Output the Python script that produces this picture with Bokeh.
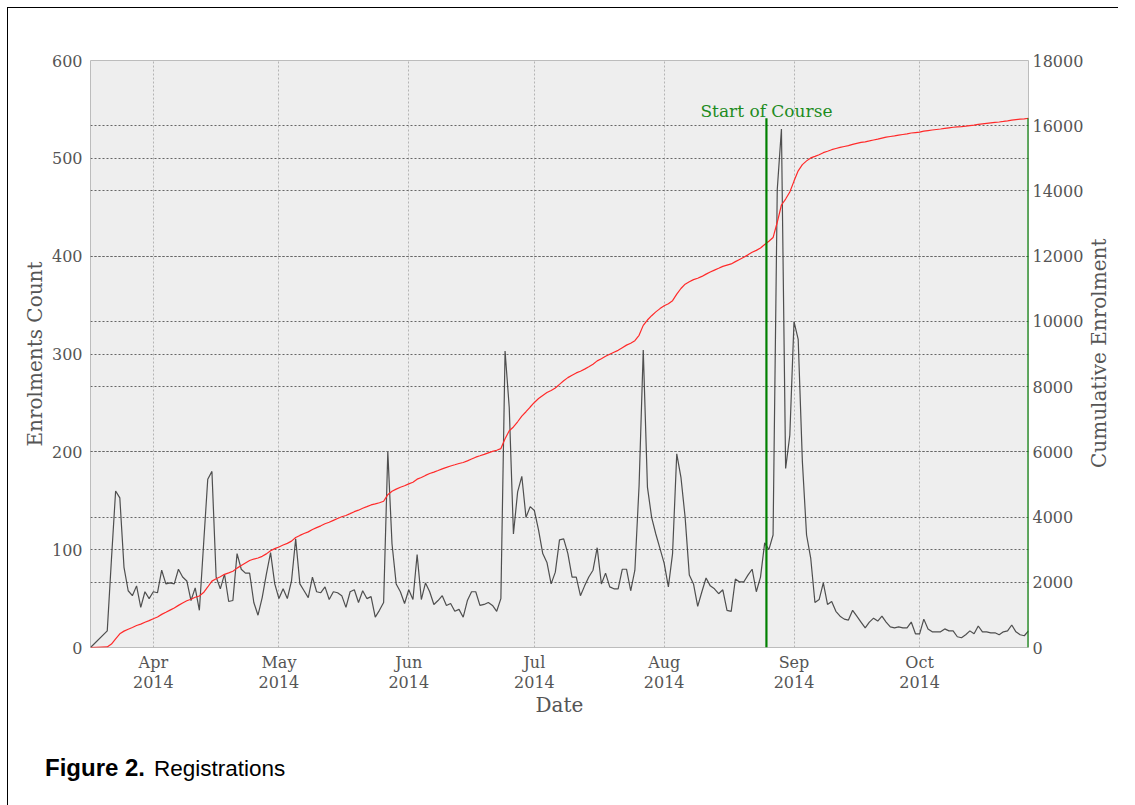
import numpy as np
import pandas as pd
from bokeh.plotting import figure
from bokeh.layouts import column, row
from bokeh.models import (Range1d, LinearAxis, SingleIntervalTicker, MonthsTicker,
                          DatetimeTickFormatter, Grid, Label, Div)
from bokeh.embed import file_html
from bokeh.resources import INLINE

# ---------------- data ----------------
start_date = "2014-03-17"
# daily enrolment counts from start_date (None = no record that day)
counts = [
    0, None, None, None, 17, 90, 160, 153, 82, 58,
    53, 63, 41, 57, 50, 57, 56, 79, 65, 66,
    65, 80, 72, 68, 48, 61, 38, 105, 172, 180,
    72, 60, 75, 47, 48, 96, 80, 76, 76, 46,
    33, 51, 75, 97, 65, 50, 60, 50, 68, 111,
    65, 58, 51, 72, 57, 56, 62, 49, 57, 56,
    53, 41, 57, 59, 46, 58, 50, 52, 31, 38,
    46, 200, 106, 65, 57, 45, 59, 49, 95, 49,
    66, 57, 44, 48, 53, 43, 45, 37, 39, 31,
    48, 57, 57, 43, 44, 46, 43, 37, 50, 303,
    245, 116, 159, 175, 133, 144, 140, 120, 96, 87,
    65, 77, 110, 111, 96, 72, 72, 53, 63, 72,
    79, 102, 65, 76, 62, 60, 60, 80, 80, 58,
    79, 165, 304, 164, 133, 116, 101, 86, 62, 96,
    198, 174, 133, 74, 65, 42, 57, 71, 63, 60,
    55, 59, 38, 37, 70, 67, 67, 74, 80, 57,
    72, 107, 100, 115, 468, 530, 183, 217, 333, 315,
    190, 115, 91, 46, 49, 66, 44, 47, 37, 32,
    29, 28, 38, 32, 26, 20, 26, 30, 27, 32,
    26, 21, 20, 21, 20, 20, 26, 14, 14, 29,
    19, 16, 16, 16, 19, 17, 17, 11, 10, 13,
    17, 14, 22, 16, 16, 15, 15, 13, 16, 17,
    23, 16, 13, 12, 17,
]
course_start = "2014-08-25 10:00"
course_label = "Start of Course"
left_range = (0, 600)
right_range = (0, 18000)
left_tick_step = 100
right_tick_step = 2000
x_label = "Date"
left_label = "Enrolments Count"
right_label = "Cumulative Enrolment"
caption_bold = "Figure 2."
caption_text = "Registrations"

# ---------------- derived ----------------
all_dates = pd.date_range(start_date, periods=len(counts), freq="D")
mask = np.array([c is not None for c in counts])
dates = all_dates[mask]
vals = np.array([c for c in counts if c is not None], dtype=float)
cum = np.cumsum(vals)
cstart = pd.Timestamp(course_start)

SERIF = "DejaVu Serif"
GREY = "#555555"

p = figure(
    frame_width=938, frame_height=587,
    min_border_left=82, min_border_right=60, min_border_top=52, min_border_bottom=100,
    x_axis_type="datetime",
    x_range=Range1d(dates[0], dates[-1]),
    y_range=Range1d(*left_range),
    output_backend="svg", toolbar_location=None,
    background_fill_color="#eeeeee", border_fill_color="white",
    outline_line_color="#bcbcbc", outline_line_width=1,
)
p.extra_y_ranges = {"cum": Range1d(*right_range)}

# grids
p.xgrid.grid_line_color = "#b4b4b4"
p.xgrid.grid_line_dash = "2 2"
p.ygrid.grid_line_color = "#666666"
p.ygrid.grid_line_dash = "2 2"
p.ygrid.ticker = SingleIntervalTicker(interval=left_tick_step)
rgrid = Grid(dimension=1, ticker=SingleIntervalTicker(interval=right_tick_step),
             y_range_name="cum", grid_line_color="#666666", grid_line_dash="2 2")
p.add_layout(rgrid)

# data lines
p.line(dates, vals, line_color="#333333", line_width=1.2, line_alpha=0.85)
p.line(dates, cum, y_range_name="cum", line_color="#ff2a2a", line_width=1.2)
p.segment(x0=[cstart, dates[-1]], y0=[0, 0], x1=[cstart, dates[-1]], y1=[cum[-1], cum[-1]],
          y_range_name="cum", line_color="#008000", line_width=2.2)

# axes
laxis = p.yaxis[0]
xaxis = p.xaxis[0]
xaxis.ticker = MonthsTicker(months=list(range(12)))
xaxis.formatter = DatetimeTickFormatter(months="%b\n%Y", days="%b\n%Y")
laxis.ticker = SingleIntervalTicker(interval=left_tick_step)
raxis = LinearAxis(y_range_name="cum", ticker=SingleIntervalTicker(interval=right_tick_step))
p.add_layout(raxis, "right")

for ax in [xaxis, laxis, raxis]:
    ax.axis_line_color = None
    ax.major_tick_line_color = None
    ax.minor_tick_line_color = None
    ax.major_tick_out = 0
    ax.major_tick_in = 0
    ax.minor_tick_out = 0
    ax.minor_tick_in = 0
    ax.major_label_text_font = SERIF
    ax.major_label_text_font_size = "16px"
    ax.major_label_text_color = GREY
    ax.axis_label_text_font = SERIF
    ax.axis_label_text_font_size = "20px"
    ax.axis_label_text_color = GREY
    ax.axis_label_text_font_style = "normal"

xaxis.major_label_standoff = 5
xaxis.major_label_text_line_height = 1.1
xaxis.axis_label = x_label
xaxis.axis_label_standoff = -2
laxis.major_label_standoff = 8
laxis.axis_label = left_label
laxis.axis_label_standoff = 2
raxis.major_label_standoff = 4
raxis.formatter.use_scientific = False

# course start annotation
p.add_layout(Label(x=cstart, y=cum[-1], y_range_name="cum", y_offset=7,
                   text=course_label, text_align="center", text_baseline="alphabetic",
                   text_font=SERIF, text_font_size="17px", text_color="#1e8c1e"))

# right-hand axis title, reading bottom-to-top
right_title = Div(
    text=(f'<div style="writing-mode:vertical-rl;transform:rotate(180deg);'
          f'height:587px;width:22px;margin-top:52px;text-align:center;line-height:22px;'
          f"font-family:'DejaVu Serif';font-size:20px;color:{GREY};white-space:nowrap\">"
          f'{right_label}</div>'),
    width=22, height=739, margin=0,
)

caption = Div(
    text=(f'<span style="font-weight:bold;font-size:24px">{caption_bold}</span>'
          f'<span style="font-size:22.5px;margin-left:9px">{caption_text}</span>'),
    width=1100, height=50,
    styles={"font-family": "'Liberation Sans', Arial, sans-serif", "color": "black",
            "padding-left": "32px", "padding-top": "3px", "line-height": "26px"},
)

layout = column(row(p, right_title, spacing=0), caption, spacing=0,
                styles={"border-top": "1px solid black", "border-left": "1px solid black",
                        "margin-left": "7px", "margin-top": "7px"})

open("out.html", "w").write(file_html(layout, INLINE))
